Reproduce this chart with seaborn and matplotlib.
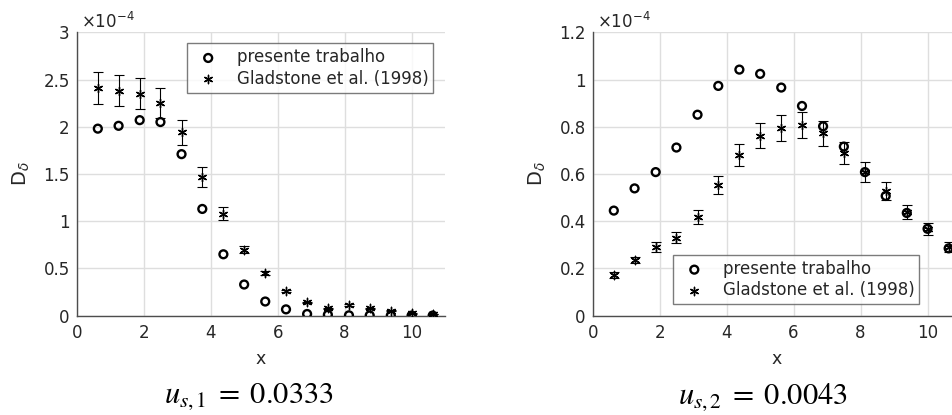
import matplotlib
matplotlib.use("Agg")
import matplotlib.pyplot as plt
import seaborn as sns
import pandas as pd
from matplotlib.ticker import FixedLocator, FuncFormatter

# Streamwise stations
x_pos = [0.63, 1.25, 1.88, 2.5, 3.13, 3.75, 4.38, 5.0, 5.63, 6.25,
         6.88, 7.5, 8.13, 8.75, 9.38, 10.0, 10.63]

# Deposit density D_delta (units of 1e-4), fraction 1
sim_1 = [1.98, 2.01, 2.07, 2.05, 1.71, 1.13, 0.65, 0.33, 0.15, 0.067,
         0.018, 0.010, 0.004, 0.003, 0.002, 0.001, 0.001]
exp_1 = [2.41, 2.38, 2.35, 2.25, 1.94, 1.47, 1.08, 0.70, 0.455, 0.26,
         0.14, 0.078, 0.113, 0.078, 0.053, 0.025, 0.018]
err_1 = [0.17, 0.165, 0.165, 0.16, 0.13, 0.105, 0.072, 0.04, 0.022, 0.012,
         0.008, 0.005, 0.006, 0.005, 0.004, 0.002, 0.002]

# Deposit density D_delta (units of 1e-4), fraction 2
sim_2 = [0.445, 0.539, 0.608, 0.712, 0.851, 0.973, 1.042, 1.024, 0.966, 0.888,
         0.802, 0.716, 0.608, 0.507, 0.435, 0.368, 0.285]
exp_2 = [0.174, 0.236, 0.291, 0.330, 0.419, 0.555, 0.679, 0.762, 0.796, 0.806,
         0.772, 0.688, 0.610, 0.529, 0.438, 0.366, 0.290]
err_2 = [0.013, 0.013, 0.02, 0.023, 0.03, 0.038, 0.047, 0.053, 0.055, 0.055,
         0.053, 0.047, 0.042, 0.038, 0.03, 0.025, 0.02]

x_ticks = [0, 2, 4, 6, 8, 10]
y_ticks_1 = [0, 0.5, 1, 1.5, 2, 2.5, 3]
y_ticks_2 = [0, 0.2, 0.4, 0.6, 0.8, 1.0, 1.2]

series_labels = ["presente trabalho", "Gladstone et al. (1998)"]
captions = [r"$u_{s,1}\;=\;0.0333$", r"$u_{s,2}\;=\;0.0043$"]

sns.set_theme(style="white")
plt.rcParams["font.family"] = ["DejaVu Sans"]
plt.rcParams["mathtext.fontset"] = "dejavusans"

TXT = "#262626"
SPINE = "#4d4d4d"
GRID = "#dedede"
star = (6, 2, 0)

fig = plt.figure(figsize=(9.52, 4.15), dpi=100)
ax_w, ax_h, ax_b = 0.3869, 0.6829, 0.2393
ax1 = fig.add_axes([0.0806, ax_b, ax_w, ax_h])
ax2 = fig.add_axes([0.6226, ax_b, ax_w, ax_h])

panels = [
    (ax1, sim_1, exp_1, err_1, 3.0, y_ticks_1, ("upper right", (0.968, 0.961)), captions[0], 0.261),
    (ax2, sim_2, exp_2, err_2, 1.2, y_ticks_2, ("lower left", (0.217, 0.040)), captions[1], 0.801),
]

for ax, sim, exp, err, ymax, yt, (lloc, lanchor), cap, cx in panels:
    df = pd.DataFrame({"x": x_pos, "sim": sim, "exp": exp, "err": err})
    ax.errorbar(df["x"], df["exp"], yerr=df["err"], fmt="none", ecolor="black",
                elinewidth=0.8, capsize=3.5, capthick=0.8, zorder=3)
    sns.scatterplot(data=df, x="x", y="sim", ax=ax, marker="o", s=32,
                    facecolor="none", edgecolor="black", linewidth=1.7,
                    label=series_labels[0], zorder=4)
    sns.scatterplot(data=df, x="x", y="exp", ax=ax, marker=star, s=36,
                    color="black", linewidth=1.0, label=series_labels[1], zorder=5)

    ax.set_xlim(0, 11)
    ax.set_ylim(0, ymax)
    ax.xaxis.set_major_locator(FixedLocator(x_ticks))
    ax.yaxis.set_major_locator(FixedLocator(yt))
    ax.yaxis.set_major_formatter(FuncFormatter(lambda v, p: f"{v:g}"))
    ax.xaxis.set_major_formatter(FuncFormatter(lambda v, p: f"{v:g}"))
    ax.grid(True, color=GRID, linewidth=1.0)
    ax.set_axisbelow(True)
    for side in ("top", "right"):
        ax.spines[side].set_visible(False)
    for side in ("left", "bottom"):
        ax.spines[side].set_color(SPINE)
        ax.spines[side].set_linewidth(1.0)
    ax.tick_params(direction="in", length=4, width=0.8, color=SPINE,
                   labelsize=12, labelcolor=TXT, pad=6)
    ax.tick_params(axis="y", pad=5)

    ax.set_xlabel("x", fontsize=12.5, color=TXT)
    ax.xaxis.set_label_coords(0.5, -0.12)
    ax.set_ylabel(r"D$_\delta$", fontsize=14, color=TXT)
    ax.yaxis.set_label_coords(-0.122, 0.5)

    ax.text(0.012, 1.0, r"$\times$10$^{-4}$", transform=ax.transAxes,
            fontsize=12, color=TXT, ha="left", va="bottom")

    leg = ax.legend(loc=lloc, bbox_to_anchor=lanchor, borderaxespad=0,
                    fontsize=12, frameon=True, fancybox=False,
                    handletextpad=0.7, borderpad=0.3, labelspacing=0.2)
    leg.get_frame().set_edgecolor("#5a5a5a")
    leg.get_frame().set_linewidth(1.0)
    for t in leg.get_texts():
        t.set_color(TXT)

    fig.text(cx, 1 - 397 / 415, cap, ha="center", va="center", fontsize=22,
             color="black", math_fontfamily="stix")

fig.savefig("out.png", dpi=100)
